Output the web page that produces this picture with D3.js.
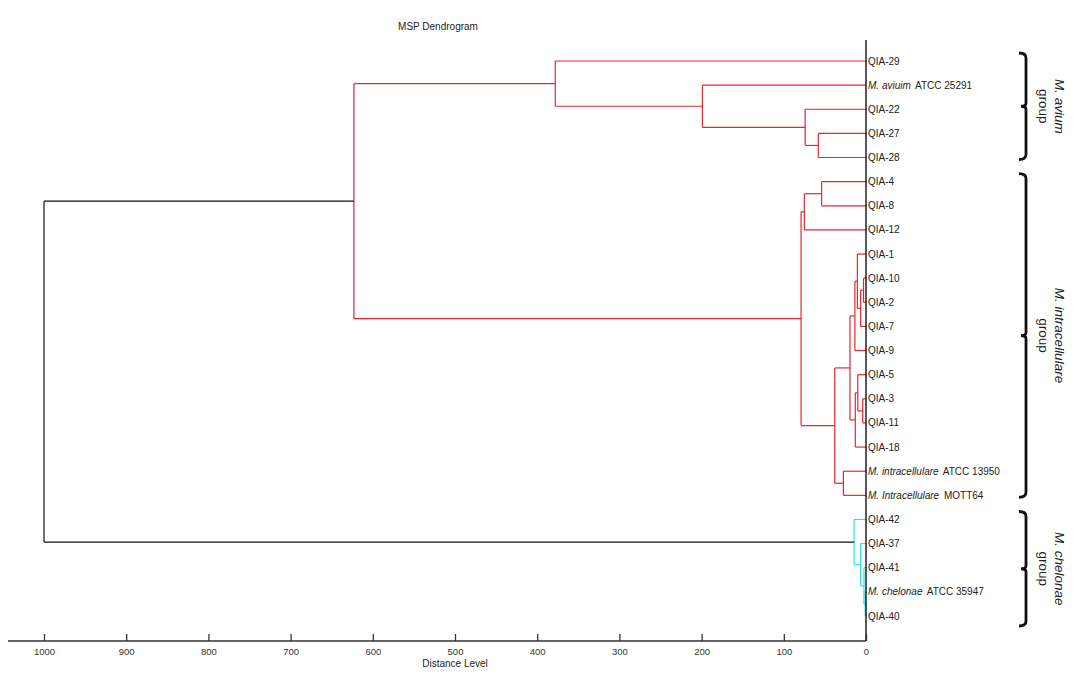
<!DOCTYPE html>
<html><head><meta charset="utf-8">
<script src="https://cdn.jsdelivr.net/npm/d3@7"></script>
<style>
body{margin:0;background:#fff;}
svg{display:block;font-family:"Liberation Sans",Arial,sans-serif;}
</style>
</head><body>
<svg id="chart" width="1088" height="677"></svg>
<script>
// ---- data ----
const leaves = [
  "QIA-29","M. aviuim ATCC 25291","QIA-22","QIA-27","QIA-28",
  "QIA-4","QIA-8","QIA-12","QIA-1","QIA-10","QIA-2","QIA-7","QIA-9",
  "QIA-5","QIA-3","QIA-11","QIA-18",
  "M. intracellulare ATCC 13950","M. Intracellulare MOTT64",
  "QIA-42","QIA-37","QIA-41","M. chelonae ATCC 35947","QIA-40"
];
// merges: [childA, childB, distance]; leaves are 0..23, merge i creates node 24+i
const merges = [
  [3, 4, 58],      // 24
  [2, 24, 74],     // 25
  [1, 25, 199],    // 26
  [0, 26, 378],    // 27
  [5, 6, 54],      // 28
  [28, 7, 75],     // 29
  [9, 10, 3],      // 30
  [30, 11, 6.5],   // 31
  [8, 31, 10.5],   // 32
  [32, 12, 13.5],  // 33
  [14, 15, 4],     // 34
  [13, 34, 10],    // 35
  [35, 16, 13],    // 36
  [33, 36, 19.5],  // 37
  [17, 18, 27.5],  // 38
  [37, 38, 38],    // 39
  [29, 39, 79],    // 40
  [27, 40, 623],   // 41
  [22, 23, 1],     // 42
  [21, 42, 2.5],   // 43
  [20, 43, 6.5],   // 44
  [19, 44, 14.5],  // 45
  [41, 45, 1000]   // 46 root
];
const clusterColors = ["#e8262c", "#22e2ea"];
const tickValues = [0,100,200,300,400,500,600,700,800,900,1000];
const groupNames = ["M. avium", "M. intracellulare", "M. chelonae"];
const groupFirst = [0, 5, 19];
const groupLast = [4, 18, 23];

// ---- layout ----
const svg = d3.select("#chart");
const x = d3.scaleLinear().domain([0, 1000]).range([866, 44]);
const y = d3.scalePoint().domain(d3.range(leaves.length)).range([61, 616]);

const nLeaves = leaves.length;
const nodeY = [], nodeH = [], nodeColor = [];
leaves.forEach((d, i) => { nodeY[i] = y(i); nodeH[i] = 0; });
merges.forEach((m, i) => {
  const id = nLeaves + i;
  nodeY[id] = (nodeY[m[0]] + nodeY[m[1]]) / 2;
  nodeH[id] = m[2];
});
const rootId = nLeaves + merges.length - 1;
function paint(id, col) {
  nodeColor[id] = col;
  if (id >= nLeaves) { const m = merges[id - nLeaves]; paint(m[0], col); paint(m[1], col); }
}
const rootM = merges[merges.length - 1];
paint(rootM[0], clusterColors[0]);
paint(rootM[1], clusterColors[1]);
nodeColor[rootId] = "#111";

const segs = [];
merges.forEach((m, i) => {
  const id = nLeaves + i;
  const col = nodeColor[id];
  const xh = x(m[2]);
  segs.push({x1: xh, x2: xh, y1: nodeY[m[0]], y2: nodeY[m[1]], c: col});
  [m[0], m[1]].forEach(ch => {
    segs.push({x1: xh, x2: x(nodeH[ch]), y1: nodeY[ch], y2: nodeY[ch], c: col});
  });
});
svg.append("g").selectAll("line").data(segs).join("line")
  .attr("x1", d => d.x1).attr("x2", d => d.x2)
  .attr("y1", d => d.y1).attr("y2", d => d.y2)
  .attr("stroke", d => d.c).attr("stroke-width", 1.2);

// title
svg.append("text").attr("x", 438).attr("y", 30).attr("text-anchor", "middle")
  .attr("font-size", 10).attr("fill", "#222").text("MSP Dendrogram");

// vertical leaf axis line
svg.append("line").attr("x1", 866).attr("x2", 866).attr("y1", 40).attr("y2", 641)
  .attr("stroke", "#111").attr("stroke-width", 1.4);

// bottom axis
const axisG = svg.append("g").attr("transform", "translate(0,641)");
axisG.append("line").attr("x1", 8).attr("x2", 866).attr("y1", 0).attr("y2", 0)
  .attr("stroke", "#333").attr("stroke-width", 1.4);
const axis = d3.axisBottom(x).tickValues(tickValues).tickFormat(d3.format("d"))
  .tickSizeInner(-7).tickSizeOuter(0).tickPadding(7);
axisG.call(axis);
axisG.select(".domain").remove();
axisG.selectAll(".tick line").attr("stroke", "#333").attr("stroke-width", 1.3);
axisG.selectAll(".tick text").attr("font-size", 9.5).attr("fill", "#333")
  .attr("font-family", "'Liberation Sans',Arial,sans-serif");
svg.append("text").attr("x", 455).attr("y", 667).attr("text-anchor", "middle")
  .attr("font-size", 10).attr("fill", "#222").text("Distance Level");

// leaf labels
const lab = svg.append("g").selectAll("text").data(leaves).join("text")
  .attr("x", 868).attr("y", (d, i) => y(i)).attr("dy", "0.35em")
  .attr("font-size", 10).attr("fill", "#222");
lab.each(function(d) {
  const t = d3.select(this);
  const m = d.match(/^(M\. \S+)\s(.*)$/);
  if (m) {
    t.append("tspan").attr("font-style", "italic").text(m[1]);
    t.append("tspan").attr("dx", 2).text(" " + m[2]);
  } else t.text(d);
});

// group brackets and labels
groupNames.forEach((g, i) => {
  const top = y(groupFirst[i]) - 8;
  const bot = y(groupLast[i]) + (i === 2 ? 10 : 2);
  const mid = (top + bot) / 2;
  const bx = 1026;
  const p = d3.path();
  p.moveTo(bx - 7, top);
  p.quadraticCurveTo(bx, top, bx, top + 5);
  p.lineTo(bx, mid - 3);
  p.quadraticCurveTo(bx, mid, bx - 5, mid);
  p.quadraticCurveTo(bx, mid, bx, mid + 3);
  p.lineTo(bx, bot - 5);
  p.quadraticCurveTo(bx, bot, bx - 7, bot);
  svg.append("path").attr("d", p.toString()).attr("fill", "none")
    .attr("stroke", "#111").attr("stroke-width", 2.8);
  const tg = svg.append("g").attr("transform", `translate(1050,${mid}) rotate(90)`);
  tg.append("text").attr("x", 0).attr("y", -5).attr("text-anchor", "middle")
    .attr("font-size", 13.5).attr("font-style", "italic").attr("fill", "#222").text(g);
  tg.append("text").attr("x", 0).attr("y", 11).attr("text-anchor", "middle")
    .attr("font-size", 13.5).attr("fill", "#222").text("group");
});
</script>
</body></html>
